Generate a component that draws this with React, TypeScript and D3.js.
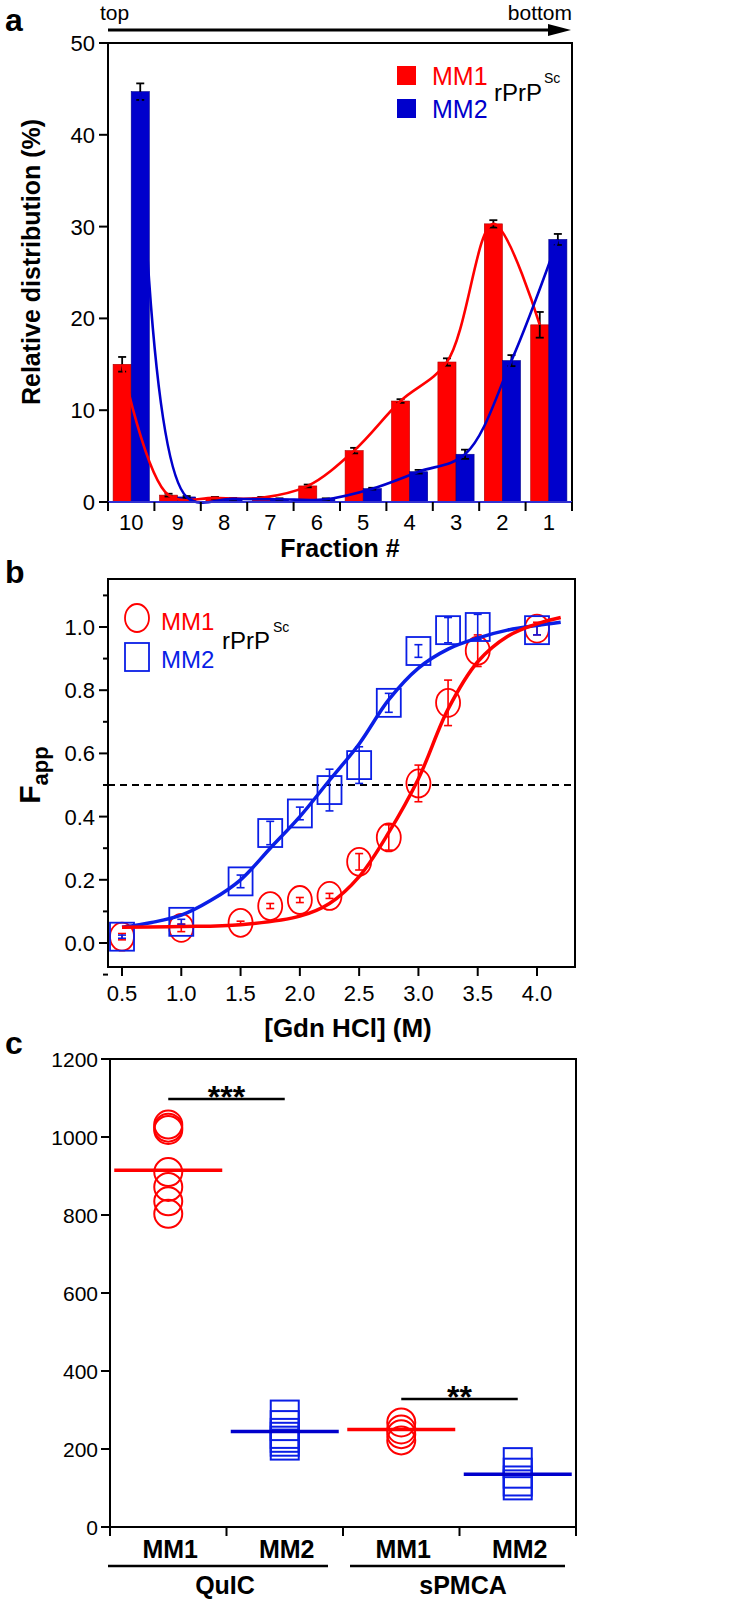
import React from "react";
import * as d3 from "d3";

// ---------- Panel a data ----------
const fractions = ["10", "9", "8", "7", "6", "5", "4", "3", "2", "1"];
const mm1Dist = [15.0, 0.75, 0.45, 0.45, 1.75, 5.6, 11.0, 15.25, 30.3, 19.3];
const mm1DistErr = [0.8, 0.15, 0.1, 0.1, 0.15, 0.3, 0.2, 0.4, 0.4, 1.4];
const mm2Dist = [44.7, 0.55, 0.35, 0.3, 0.3, 1.45, 3.3, 5.2, 15.4, 28.6];
const mm2DistErr = [0.9, 0.1, 0.1, 0.1, 0.1, 0.1, 0.2, 0.5, 0.6, 0.6];
const distTicks = [0, 10, 20, 30, 40, 50];

// ---------- Panel b data ----------
const gdn = [0.5, 1.0, 1.5, 1.75, 2.0, 2.25, 2.5, 2.75, 3.0, 3.25, 3.5, 4.0];
const mm1Fapp = [0.02, 0.048, 0.064, 0.117, 0.136, 0.149, 0.257, 0.334, 0.505, 0.76, 0.925, 0.995];
const mm1FappErr = [0.01, 0.012, 0.005, 0.008, 0.008, 0.008, 0.026, 0.04, 0.058, 0.072, 0.05, 0.02];
const mm2Fapp = [0.02, 0.067, 0.195, 0.348, 0.41, 0.484, 0.563, 0.76, 0.924, 0.99, 1.0, 0.99];
const mm2FappErr = [0.005, 0.008, 0.02, 0.037, 0.02, 0.066, 0.058, 0.03, 0.02, 0.04, 0.04, 0.015];
const mm1FitX = [0.5, 1.0, 1.5, 2.0, 2.25, 2.5, 2.75, 3.0, 3.25, 3.5, 3.75, 4.0, 4.2];
const mm1FitY = [0.05, 0.052, 0.058, 0.085, 0.125, 0.21, 0.35, 0.52, 0.74, 0.89, 0.97, 1.01, 1.03];
const mm2FitX = [0.5, 0.75, 1.0, 1.25, 1.5, 1.75, 2.0, 2.25, 2.5, 2.75, 3.0, 3.25, 3.5, 3.75, 4.0, 4.2];
const mm2FitY = [0.05, 0.065, 0.088, 0.135, 0.2, 0.3, 0.4, 0.515, 0.63, 0.77, 0.87, 0.93, 0.965, 0.99, 1.005, 1.015];
const fappTicks = [0, 0.2, 0.4, 0.6, 0.8, 1.0];
const fappMinor = [-0.1, 0.1, 0.3, 0.5, 0.7, 0.9, 1.1];
const gdnTicks = [0.5, 1.0, 1.5, 2.0, 2.5, 3.0, 3.5, 4.0];

// ---------- Panel c data ----------
const cGroups = ["QuIC-MM1", "QuIC-MM2", "sPMCA-MM1", "sPMCA-MM2"];
const cLabels = ["MM1", "MM2", "MM1", "MM2"];
const assays = ["QuIC", "sPMCA"];
const quicMM1 = [1032, 1024, 1018, 910, 872, 835, 803];
const quicMM2 = [287, 260, 240, 230, 220, 210];
const spmcaMM1 = [268, 250, 238, 222];
const spmcaMM2 = [165, 138, 118, 108];
const cMeans = [915, 245, 250, 135];
const cTicks = [0, 200, 400, 600, 800, 1000, 1200];

const RED = "#ff0000";
const BLUE = "#0000cc";
const LBLUE = "#0a1ee6";
const FONT = "'Liberation Sans', Arial, sans-serif";

function ErrBar({ x, y1, y2, color, w = 1.6, cap = 4 }: { x: number; y1: number; y2: number; color: string; w?: number; cap?: number }) {
  return (
    <g stroke={color} strokeWidth={w}>
      <line x1={x} x2={x} y1={y1} y2={y2} />
      <line x1={x - cap} x2={x + cap} y1={y1} y2={y1} />
      <line x1={x - cap} x2={x + cap} y1={y2} y2={y2} />
    </g>
  );
}

export default function App() {
  // ---------- Panel a scales ----------
  const aL = 108, aR = 572, aT = 43, aB = 502;
  const xa = d3.scaleBand().domain(fractions).range([aL, aR]);
  const bw = xa.bandwidth();
  const ya = d3.scaleLinear().domain([0, 50]).range([aB, aT]);
  const redX = (f: string) => (xa(f) as number) + bw * 0.11;
  const blueX = (f: string) => (xa(f) as number) + bw * 0.5;
  const barW = bw * 0.39;
  const lineA = d3.line<[number, number]>().x((d) => d[0]).y((d) => d[1]).curve(d3.curveCatmullRom.alpha(0.5));
  const redCurve = lineA(fractions.map((f, i) => [redX(f) + barW / 2, ya(mm1Dist[i])]));
  const blueCurve = lineA(fractions.map((f, i) => [blueX(f) + barW / 2, ya(mm2Dist[i])]));

  // ---------- Panel b scales ----------
  const bL = 108, bR = 575, bT = 579, bB = 967;
  const xb = d3.scaleLinear().domain([0.5, 4.0]).range([122, 537]);
  const yb = d3.scaleLinear().domain([0, 1]).range([943, 627]);
  const redFit = d3.line<number>().x((d) => xb(mm1FitX[d])).y((d) => yb(mm1FitY[d])).curve(d3.curveCatmullRom.alpha(0.5))(mm1FitX.map((_, i) => i));
  const blueFit = d3.line<number>().x((d) => xb(mm2FitX[d])).y((d) => yb(mm2FitY[d])).curve(d3.curveCatmullRom.alpha(0.5))(mm2FitX.map((_, i) => i));

  // ---------- Panel c scales ----------
  const cL = 110, cR = 576, cT = 1059, cB = 1527;
  const xc = d3.scaleBand().domain(cGroups).range([cL, cR]);
  const cbw = xc.bandwidth();
  const yc = d3.scaleLinear().domain([0, 1200]).range([cB, cT]);
  const cc = (g: string) => (xc(g) as number) + cbw / 2;
  const cSeries = [quicMM1, quicMM2, spmcaMM1, spmcaMM2];

  return (
    <svg width={730} height={1600} viewBox="0 0 730 1600" style={{ display: "block", background: "#fff", position: "absolute", left: 0, top: 0 }} fontFamily={FONT}>
      <rect x={0} y={0} width={730} height={1600} fill="#fff" />

      {/* ================= Panel a ================= */}
      <text x={5} y={31} fontSize={32} fontWeight="bold">a</text>
      <text x={100} y={20} fontSize={21}>top</text>
      <text x={572} y={20} fontSize={21} textAnchor="end">bottom</text>
      <line x1={108} x2={552} y1={30} y2={30} stroke="#000" strokeWidth={3} />
      <path d="M548,24 L571,30 L548,36 Z" fill="#000" />

      {fractions.map((f, i) => (
        <g key={"ba" + f}>
          <rect x={redX(f)} y={ya(mm1Dist[i])} width={barW} height={aB - ya(mm1Dist[i])} fill={RED} stroke="#b00000" strokeWidth={0.6} />
          <rect x={blueX(f)} y={ya(mm2Dist[i])} width={barW} height={aB - ya(mm2Dist[i])} fill={BLUE} stroke="#00008a" strokeWidth={0.6} />
        </g>
      ))}
      {fractions.map((f, i) => (
        <g key={"ea" + f}>
          <ErrBar x={redX(f) + barW / 2} y1={ya(mm1Dist[i] + mm1DistErr[i])} y2={ya(mm1Dist[i] - mm1DistErr[i])} color="#000" w={1.8} />
          <ErrBar x={blueX(f) + barW / 2} y1={ya(mm2Dist[i] + mm2DistErr[i])} y2={ya(mm2Dist[i] - mm2DistErr[i])} color="#000" w={1.8} />
        </g>
      ))}
      <path d={redCurve || ""} fill="none" stroke={RED} strokeWidth={2.6} />
      <path d={blueCurve || ""} fill="none" stroke={BLUE} strokeWidth={2.6} />

      <rect x={aL} y={aT} width={aR - aL} height={aB - aT} fill="none" stroke="#000" strokeWidth={2} />
      <line x1={aL} x2={aR} y1={aB} y2={aB} stroke="#3030d0" strokeWidth={2} />
      {distTicks.map((t) => (
        <g key={"ya" + t}>
          <line x1={aL - 9} x2={aL} y1={ya(t)} y2={ya(t)} stroke="#000" strokeWidth={2} />
          <text x={aL - 13} y={ya(t)} dy="0.36em" fontSize={22} textAnchor="end">{t}</text>
        </g>
      ))}
      {[...fractions.map((f) => xa(f) as number), aR].map((x, i) => (
        <line key={"xta" + i} x1={x} x2={x} y1={aB} y2={aB + 9} stroke="#000" strokeWidth={2} />
      ))}
      {fractions.map((f) => (
        <text key={"xla" + f} x={(xa(f) as number) + bw / 2} y={530} fontSize={22} textAnchor="middle">{f}</text>
      ))}
      <text x={340} y={557} fontSize={25} fontWeight="bold" textAnchor="middle">Fraction #</text>
      <text transform="translate(40,262) rotate(-90)" fontSize={25} fontWeight="bold" textAnchor="middle">Relative distribution (%)</text>

      {/* legend a */}
      <rect x={397} y={66} width={19} height={19} fill={RED} />
      <text x={432} y={85} fontSize={25} fill={RED}>MM1</text>
      <rect x={397} y={99} width={19} height={19} fill={BLUE} />
      <text x={432} y={118} fontSize={25} fill={BLUE}>MM2</text>
      <text x={494} y={101} fontSize={24}>rPrP</text>
      <text x={544} y={83} fontSize={14}>Sc</text>

      {/* ================= Panel b ================= */}
      <text x={5} y={583} fontSize={32} fontWeight="bold">b</text>
      <line x1={bL} x2={bR} y1={yb(0.5)} y2={yb(0.5)} stroke="#000" strokeWidth={2} strokeDasharray="7,5" />
      {gdn.map((g, i) => (
        <g key={"m1" + i}>
          <ellipse cx={xb(g)} cy={yb(mm1Fapp[i])} rx={12} ry={14} fill="none" stroke={RED} strokeWidth={1.8} />
          <ErrBar x={xb(g)} y1={yb(mm1Fapp[i] + mm1FappErr[i])} y2={yb(mm1Fapp[i] - mm1FappErr[i])} color={RED} />
        </g>
      ))}
      {gdn.map((g, i) => (
        <g key={"m2" + i}>
          <rect x={xb(g) - 12} y={yb(mm2Fapp[i]) - 14} width={24} height={28} fill="none" stroke={LBLUE} strokeWidth={1.8} />
          <ErrBar x={xb(g)} y1={yb(mm2Fapp[i] + mm2FappErr[i])} y2={yb(mm2Fapp[i] - mm2FappErr[i])} color={LBLUE} />
        </g>
      ))}
      <path d={blueFit || ""} fill="none" stroke={LBLUE} strokeWidth={3.5} />
      <path d={redFit || ""} fill="none" stroke={RED} strokeWidth={3.5} />
      <rect x={bL} y={bT} width={bR - bL} height={bB - bT} fill="none" stroke="#000" strokeWidth={2} />
      {fappTicks.map((t) => (
        <g key={"yb" + t}>
          <line x1={bL - 9} x2={bL} y1={yb(t)} y2={yb(t)} stroke="#000" strokeWidth={2} />
          <text x={bL - 13} y={yb(t)} dy="0.36em" fontSize={22} textAnchor="end">{t.toFixed(1)}</text>
        </g>
      ))}
      {fappMinor.map((t) => (
        <line key={"ybm" + t} x1={bL - 5} x2={bL} y1={yb(t)} y2={yb(t)} stroke="#000" strokeWidth={2} />
      ))}
      {gdnTicks.map((t) => (
        <g key={"xb" + t}>
          <line x1={xb(t)} x2={xb(t)} y1={bB} y2={bB + 9} stroke="#000" strokeWidth={2} />
          <text x={xb(t)} y={1001} fontSize={22} textAnchor="middle">{t.toFixed(1)}</text>
        </g>
      ))}
      <text x={348} y={1037} fontSize={26} fontWeight="bold" textAnchor="middle">[Gdn HCl] (M)</text>
      <text transform="translate(40,775) rotate(-90)" fontWeight="bold" textAnchor="middle">
        <tspan fontSize={30}>F</tspan>
        <tspan fontSize={22} dy={8}>app</tspan>
      </text>
      {/* legend b */}
      <ellipse cx={137} cy={618} rx={12} ry={14} fill="none" stroke={RED} strokeWidth={1.8} />
      <text x={161} y={630} fontSize={24} fill={RED}>MM1</text>
      <rect x={125} y={643} width={24} height={28} fill="none" stroke={LBLUE} strokeWidth={1.8} />
      <text x={161} y={668} fontSize={24} fill={LBLUE}>MM2</text>
      <text x={222} y={649} fontSize={24}>rPrP</text>
      <text x={273} y={632} fontSize={14}>Sc</text>

      {/* ================= Panel c ================= */}
      <text x={5} y={1054} fontSize={32} fontWeight="bold">c</text>
      <rect x={cL} y={cT} width={cR - cL} height={cB - cT} fill="none" stroke="#000" strokeWidth={2} />
      {cTicks.map((t) => (
        <g key={"yc" + t}>
          <line x1={cL - 9} x2={cL} y1={yc(t)} y2={yc(t)} stroke="#000" strokeWidth={2} />
          <text x={cL - 12} y={yc(t)} dy="0.36em" fontSize={21} textAnchor="end">{t}</text>
        </g>
      ))}
      {[...cGroups.map((g) => xc(g) as number), cR].map((x, i) => (
        <line key={"xtc" + i} x1={x} x2={x} y1={cB} y2={cB + 9} stroke="#000" strokeWidth={2} />
      ))}
      {cSeries.map((vals, gi) => {
        const g = cGroups[gi];
        const isRed = gi % 2 === 0;
        return (
          <g key={"cs" + g}>
            {vals.map((v, k) =>
              isRed ? (
                <circle key={k} cx={cc(g)} cy={yc(v)} r={14} fill="none" stroke={RED} strokeWidth={2} />
              ) : (
                <rect key={k} x={cc(g) - 14} y={yc(v) - 14.5} width={28} height={29} fill="none" stroke={LBLUE} strokeWidth={2} />
              )
            )}
            <line x1={cc(g) - 54} x2={cc(g) + 54} y1={yc(cMeans[gi])} y2={yc(cMeans[gi])} stroke={isRed ? RED : BLUE} strokeWidth={3.5} />
          </g>
        );
      })}
      <line x1={cc(cGroups[0])} x2={cc(cGroups[1])} y1={1099} y2={1099} stroke="#000" strokeWidth={2.5} />
      <text x={(cc(cGroups[0]) + cc(cGroups[1])) / 2} y={1108} fontSize={32} fontWeight="bold" textAnchor="middle">***</text>
      <line x1={cc(cGroups[2])} x2={cc(cGroups[3])} y1={1399} y2={1399} stroke="#000" strokeWidth={2.5} />
      <text x={(cc(cGroups[2]) + cc(cGroups[3])) / 2} y={1408} fontSize={32} fontWeight="bold" textAnchor="middle">**</text>
      {cGroups.map((g, i) => (
        <text key={"cl" + g} x={cc(g) + 2} y={1558} fontSize={25} fontWeight="bold" textAnchor="middle">{cLabels[i]}</text>
      ))}
      <line x1={108} x2={328} y1={1566} y2={1566} stroke="#000" strokeWidth={2.5} />
      <line x1={350} x2={565} y1={1566} y2={1566} stroke="#000" strokeWidth={2.5} />
      <text x={225} y={1594} fontSize={25} fontWeight="bold" textAnchor="middle">{assays[0]}</text>
      <text x={463} y={1594} fontSize={25} fontWeight="bold" textAnchor="middle">{assays[1]}</text>
    </svg>
  );
}
